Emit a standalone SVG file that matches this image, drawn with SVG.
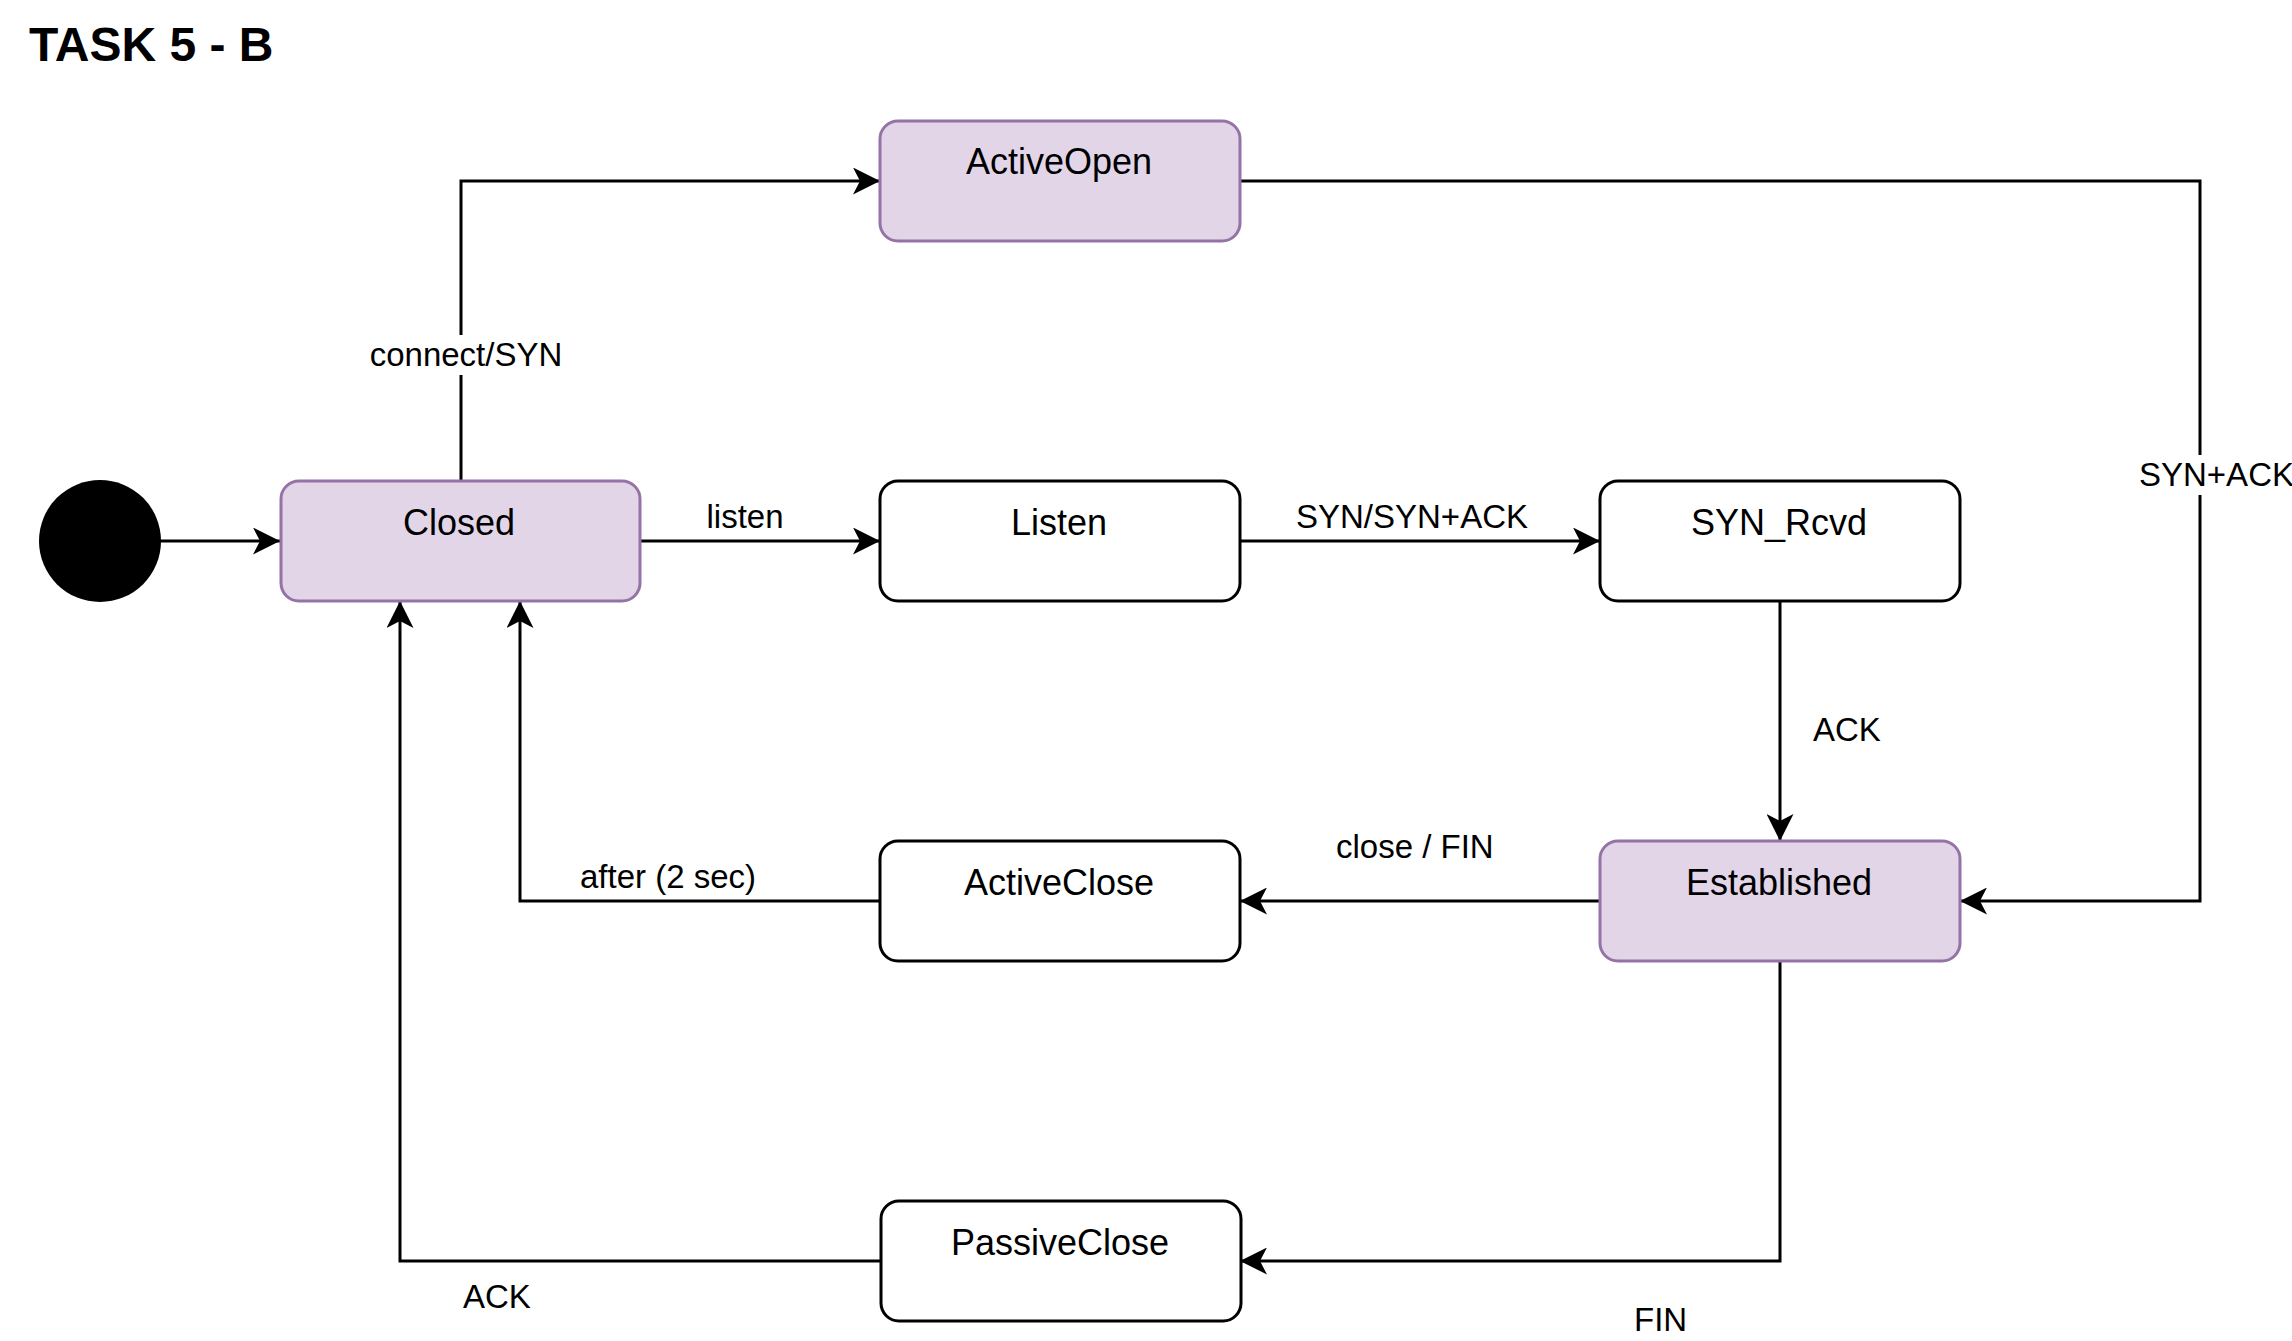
<svg xmlns="http://www.w3.org/2000/svg" width="2292" height="1341" viewBox="0 0 2292 1341">
<style>
.p{fill:#e1d5e7;stroke:#9673a6;stroke-width:3}
.w{fill:#ffffff;stroke:#000000;stroke-width:3}
.nt{font-family:"Liberation Sans",Arial,sans-serif;font-size:36px;fill:#000;text-anchor:middle}
.lt{font-family:"Liberation Sans",Arial,sans-serif;font-size:33px;fill:#000}
.c{fill:none;stroke:#000;stroke-width:3}
.title{font-family:"Liberation Sans",Arial,sans-serif;font-size:48px;font-weight:bold;fill:#000}
</style>
<defs>
<marker id="arr" markerUnits="userSpaceOnUse" viewBox="0 0 27 27" refX="27" refY="13.5" markerWidth="27" markerHeight="27" orient="auto">
<path d="M27,13.5 L0,0 L7,13.5 L0,27 Z" fill="#000"/>
</marker>
</defs>
<rect width="2292" height="1341" fill="#ffffff"/>
<text class="title" x="29" y="61">TASK 5 - B</text>

<g id="connectors">
<path class="c" d="M160,541 L280,541" marker-end="url(#arr)"/>
<path class="c" d="M461,481 L461,181 L880,181" marker-end="url(#arr)"/>
<path class="c" d="M640,541 L880,541" marker-end="url(#arr)"/>
<path class="c" d="M1240,541 L1600,541" marker-end="url(#arr)"/>
<path class="c" d="M1240,181 L2200,181 L2200,901 L1960,901" marker-end="url(#arr)"/>
<path class="c" d="M1780,601 L1780,841" marker-end="url(#arr)"/>
<path class="c" d="M1600,901 L1240,901" marker-end="url(#arr)"/>
<path class="c" d="M880,901 L520,901 L520,601" marker-end="url(#arr)"/>
<path class="c" d="M1780,961 L1780,1261 L1240,1261" marker-end="url(#arr)"/>
<path class="c" d="M880,1261 L400,1261 L400,601" marker-end="url(#arr)"/>
<rect x="370" y="335" width="193" height="40" fill="#ffffff"/>
<text class="lt" x="466" y="366" text-anchor="middle">connect/SYN</text>
<text class="lt" x="745" y="528" text-anchor="middle">listen</text>
<text class="lt" x="1412" y="528" text-anchor="middle">SYN/SYN+ACK</text>
<rect x="2138" y="455" width="154" height="40" fill="#ffffff"/>
<text class="lt" x="2139" y="486">SYN+ACK</text>
<text class="lt" x="1813" y="741">ACK</text>
<text class="lt" x="1336" y="858">close / FIN</text>
<text class="lt" x="580" y="888">after (2 sec)</text>
<text class="lt" x="1634" y="1331">FIN</text>
<text class="lt" x="463" y="1308">ACK</text>
</g>

<g id="initial"><circle cx="100" cy="541" r="61" fill="#000"/></g>
<g id="ActiveOpen"><rect class="p" x="880" y="121" width="360" height="120" rx="18"/><text class="nt" x="1059" y="174">ActiveOpen</text></g>
<g id="Closed"><rect class="p" x="281" y="481" width="359" height="120" rx="18"/><text class="nt" x="459" y="535">Closed</text></g>
<g id="Listen"><rect class="w" x="880" y="481" width="360" height="120" rx="18"/><text class="nt" x="1059" y="535">Listen</text></g>
<g id="SYN_Rcvd"><rect class="w" x="1600" y="481" width="360" height="120" rx="18"/><text class="nt" x="1779" y="535">SYN_Rcvd</text></g>
<g id="ActiveClose"><rect class="w" x="880" y="841" width="360" height="120" rx="18"/><text class="nt" x="1059" y="895">ActiveClose</text></g>
<g id="Established"><rect class="p" x="1600" y="841" width="360" height="120" rx="18"/><text class="nt" x="1779" y="895">Established</text></g>
<g id="PassiveClose"><rect class="w" x="881" y="1201" width="360" height="120" rx="18"/><text class="nt" x="1060" y="1255">PassiveClose</text></g>
</svg>
